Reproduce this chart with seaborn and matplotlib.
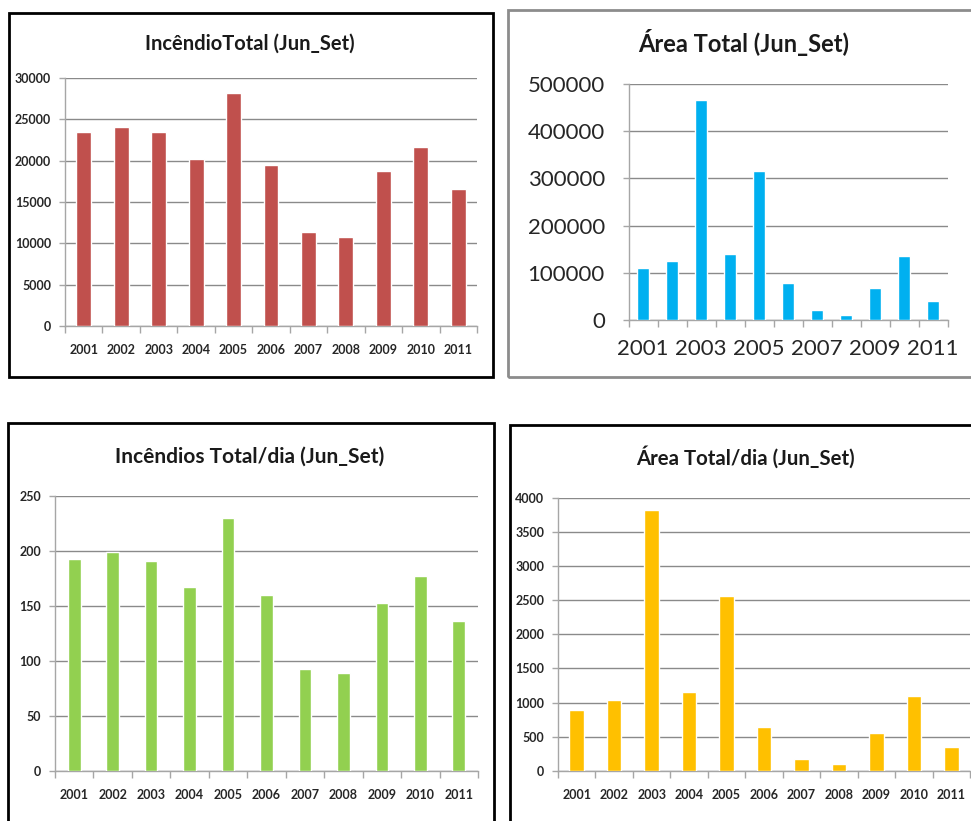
import matplotlib
matplotlib.use("Agg")
import matplotlib.pyplot as plt
from matplotlib.patches import Rectangle
import numpy as np
import pandas as pd
import seaborn as sns

# Fire statistics for the June–September season, 2001–2011
years = ["2001", "2002", "2003", "2004", "2005", "2006",
         "2007", "2008", "2009", "2010", "2011"]
incendios_total = [23460, 24100, 23460, 20230, 28140, 19500,
                   11390, 10780, 18690, 21640, 16630]
area_total = [109500, 125000, 466800, 139100, 315700, 79100,
              21900, 10600, 68500, 134900, 40300]
incendios_dia = [193, 199, 191, 167, 230, 160, 93, 89, 153, 177, 136]
area_dia = [891, 1038, 3819, 1150, 2565, 646, 171, 98, 548, 1097, 343]

titles = ["IncêndioTotal (Jun_Set)", "Área Total (Jun_Set)",
          "Incêndios Total/dia (Jun_Set)", "Área Total/dia (Jun_Set)"]
y_ticks = [np.arange(0, 30001, 5000), np.arange(0, 500001, 100000),
           np.arange(0, 251, 50), np.arange(0, 4001, 500)]

sns.set_theme(style="white")
fam = ["Lato", "DejaVu Sans"]

W, H = 971, 821
fig = plt.figure(figsize=(W / 100, H / 100), dpi=100)
fig.patch.set_facecolor("white")


def px_axes(x0, x1, y_base, y_top):
    return fig.add_axes([x0 / W, (H - y_base) / H, (x1 - x0) / W, (y_base - y_top) / H])


def frame(x0, y0, x1, y1, color, lw):
    fig.add_artist(Rectangle((x0 / W, (H - y1) / H), (x1 - x0) / W, (y1 - y0) / H,
                             transform=fig.transFigure, fill=False,
                             edgecolor=color, linewidth=lw, zorder=10))


# panel frames
frame(9, 13, 493, 377, "black", 2.0)
frame(508, 10, 990, 377, "#8c8c8c", 2.0)
frame(8, 423, 494, 840, "black", 2.0)
frame(510, 425, 990, 840, "black", 2.0)

panels = [
    dict(vals=incendios_total, color="#C0504D", box=(65, 477, 326, 78), width=0.40,
         title_xy=(250, 44), title_fs=14.5, big=False),
    dict(vals=area_total, color="#00B0F0", box=(628.5, 947.5, 320, 84), width=0.44,
         title_xy=(744, 43), title_fs=17, big=True),
    dict(vals=incendios_dia, color="#92D050", box=(55, 478, 770.7, 496), width=0.33,
         title_xy=(250, 457), title_fs=15, big=False),
    dict(vals=area_dia, color="#FFC000", box=(558, 970, 770.7, 498), width=0.39,
         title_xy=(745, 457), title_fs=14.7, big=False),
]

for i, p in enumerate(panels):
    ax = px_axes(*p["box"])
    df = pd.DataFrame({"ano": years, "valor": p["vals"]})
    sns.barplot(data=df, x="ano", y="valor", color=p["color"], saturation=1,
                width=p["width"], ax=ax, zorder=3)
    ax.set_xlim(-0.5, len(years) - 0.5)
    ax.set_ylim(y_ticks[i][0], y_ticks[i][-1])
    ax.set_xlabel("")
    ax.set_ylabel("")
    ax.set_yticks(y_ticks[i])
    ax.set_axisbelow(True)
    ax.yaxis.grid(True, color="#8a8a8a", linewidth=1.0)
    ax.xaxis.grid(False)
    for s in ["top", "right"]:
        ax.spines[s].set_visible(False)
    for s in ["left", "bottom"]:
        ax.spines[s].set_color("#a6a6a6")
        ax.spines[s].set_linewidth(1.0)
    # tick marks sit between the categories
    ax.set_xticks(np.arange(-0.5, len(years), 1.0), minor=True)
    ax.tick_params(axis="x", which="minor", length=5, width=1, color="#a6a6a6", bottom=True)
    ax.tick_params(axis="x", which="major", length=0)
    ax.tick_params(axis="y", which="major", length=4, width=1, color="#a6a6a6", left=True)
    ax.set_xticks(range(len(years)))

    if p["big"]:
        labels = [y if k % 2 == 0 else "" for k, y in enumerate(years)]
        ax.set_xticklabels(labels, fontsize=16, color="#262626", family=fam)
        for t in ax.get_yticklabels():
            t.set_fontsize(16)
            t.set_color("#262626")
            t.set_family(fam)
        ax.tick_params(axis="x", which="major", pad=14)
        ax.tick_params(axis="y", which="major", pad=13)
    else:
        ax.set_xticklabels(years, fontsize=9, color="#262626", family=fam,
                           fontweight="bold")
        for t in ax.get_yticklabels():
            t.set_fontsize(9)
            t.set_color("#262626")
            t.set_family(fam)
            t.set_fontweight("bold")
        ax.tick_params(axis="x", which="major", pad=13)
        ax.tick_params(axis="y", which="major", pad=6)
    tx, ty = p["title_xy"]
    fig.text(tx / W, (H - ty) / H, titles[i], ha="center", va="center",
             fontsize=p["title_fs"], fontweight="bold", family=fam, color="#1a1a1a")

fig.savefig("out.png", dpi=100, facecolor="white")
